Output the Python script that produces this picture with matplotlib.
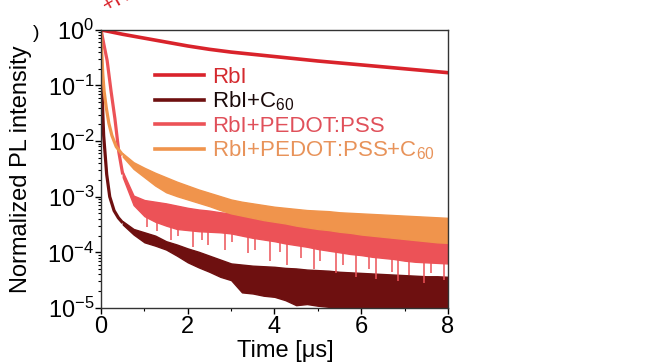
import matplotlib
matplotlib.use("Agg")
import matplotlib.pyplot as plt
from matplotlib.lines import Line2D
from matplotlib.ticker import LogLocator, NullFormatter
import numpy as np

plt.rcParams['font.family'] = ['Liberation Sans', 'DejaVu Sans']
plt.rcParams['mathtext.fontset'] = 'custom'
plt.rcParams['mathtext.rm'] = 'Liberation Sans'
plt.rcParams['mathtext.it'] = 'Liberation Sans:italic'

# colours
c_rbi = '#d9232b'
c_c60 = '#6e1010'
c_pedot = '#ec5257'
c_orange = '#f0944c'

labels = ['RbI', 'RbI+C$_{60}$', 'RbI+PEDOT:PSS', 'RbI+PEDOT:PSS+C$_{60}$']
label_colors = ['#d42a2f', '#1a0a0a', '#e0505a', '#e8935a']

# RbI (smooth, log10 of intensity)
t_rbi = [0, 0.5, 1, 1.5, 2, 2.5, 3, 4, 5, 6, 7, 8]
y_rbi = [0, -0.08, -0.15, -0.22, -0.29, -0.35, -0.40, -0.48, -0.56, -0.63, -0.70, -0.77]

# early decays (log10), drawn as lines up to t = 0.5 us
t_c60_early = [0, 0.01, 0.02, 0.04, 0.06, 0.09, 0.13, 0.2, 0.3, 0.4, 0.5]
y_c60_early = [0, -0.5, -1.0, -1.5, -1.9, -2.2, -2.6, -3.0, -3.25, -3.38, -3.47]
t_ped_early = [0, 0.03, 0.07, 0.14, 0.23, 0.32, 0.41, 0.5]
y_ped_early = [0, -0.12, -0.28, -0.55, -1.1, -1.6, -2.2, -2.6]
t_or_early = [0, 0.01, 0.02, 0.04, 0.07, 0.12, 0.18, 0.25, 0.35, 0.5]
y_or_early = [0, -0.3, -0.5, -0.8, -1.1, -1.4, -1.68, -1.9, -2.1, -2.25]

# noisy part: upper / lower envelopes (log10)
t_band = [0.5, 0.75, 1.0, 1.25, 1.5, 1.75, 2.0, 2.25, 2.5, 2.75, 3.0, 3.25, 3.5, 3.75, 4.0, 4.25,
          4.5, 4.75, 5.0, 5.25, 5.5, 5.75, 6.0, 6.25, 6.5, 6.75, 7.0, 7.25, 7.5, 7.75, 8.0]
c60_hi = [-3.44, -3.58, -3.64, -3.70, -3.80, -3.86, -3.93, -3.99, -4.06, -4.13, -4.20, -4.22, -4.24,
          -4.25, -4.26, -4.28, -4.29, -4.31, -4.32, -4.33, -4.35, -4.36, -4.37, -4.38, -4.39, -4.40,
          -4.41, -4.42, -4.43, -4.43, -4.44]
c60_lo = [-3.50, -3.68, -3.82, -3.88, -3.95, -4.06, -4.18, -4.27, -4.35, -4.44, -4.50, -4.72, -4.74,
          -4.78, -4.80, -4.86, -4.95, -4.93, -4.96, -4.98, -5.10, -5.20, -5.20, -5.20, -5.20, -5.20,
          -5.20, -5.20, -5.20, -5.20, -5.20]
ped_hi = [-2.55, -2.98, -3.06, -3.09, -3.12, -3.16, -3.20, -3.23, -3.25, -3.28, -3.30, -3.33, -3.36,
          -3.40, -3.44, -3.47, -3.50, -3.52, -3.55, -3.58, -3.61, -3.64, -3.66, -3.69, -3.72, -3.74,
          -3.76, -3.78, -3.80, -3.82, -3.84]
ped_lo = [-2.65, -3.15, -3.35, -3.45, -3.52, -3.58, -3.60, -3.62, -3.63, -3.64, -3.66, -3.70, -3.74,
          -3.77, -3.80, -3.84, -3.87, -3.90, -3.94, -3.97, -4.00, -4.03, -4.05, -4.08, -4.10, -4.12,
          -4.15, -4.17, -4.18, -4.19, -4.20]
or_hi = [-2.22, -2.38, -2.48, -2.57, -2.65, -2.73, -2.80, -2.87, -2.93, -2.99, -3.05, -3.09, -3.12,
         -3.15, -3.18, -3.20, -3.22, -3.24, -3.25, -3.26, -3.28, -3.29, -3.30, -3.31, -3.32, -3.33,
         -3.34, -3.35, -3.36, -3.37, -3.38]
or_lo = [-2.28, -2.50, -2.65, -2.80, -2.92, -2.99, -3.05, -3.11, -3.17, -3.24, -3.30, -3.34, -3.38,
         -3.42, -3.45, -3.48, -3.52, -3.55, -3.58, -3.60, -3.63, -3.65, -3.68, -3.70, -3.72, -3.74,
         -3.76, -3.78, -3.80, -3.82, -3.83]

# downward noise spikes of RbI+PEDOT:PSS
ped_spike_t = [1.05, 1.3, 1.62, 1.78, 2.12, 2.33, 2.46, 2.85, 3.02, 3.38, 3.55, 3.9, 4.12, 4.3,
               4.62, 4.9, 5.06, 5.42, 5.57, 5.88, 6.17, 6.33, 6.7, 6.86, 7.1, 7.44, 7.6, 7.92]
ped_spike_lo = [-3.55, -3.62, -3.78, -3.7, -3.9, -3.78, -3.86, -3.95, -3.82, -4.02, -3.95, -4.15,
                -4.0, -4.22, -4.1, -4.3, -4.15, -4.38, -4.22, -4.45, -4.3, -4.48, -4.35, -4.52,
                -4.4, -4.55, -4.38, -4.5]

p = lambda v: 10 ** np.asarray(v, dtype=float)

fig = plt.figure(figsize=(6.52, 3.64), dpi=100)
ax = fig.add_axes([0.155, 0.154, 0.532, 0.764])

lw = 2.3
ax.plot(t_c60_early, p(y_c60_early), color=c_c60, lw=lw, solid_capstyle='butt')
ax.fill_between(t_band, p(c60_lo), p(c60_hi), color=c_c60, lw=1.0, edgecolor=c_c60)

ax.plot(t_ped_early, p(y_ped_early), color=c_pedot, lw=lw, solid_capstyle='butt')
ax.fill_between(t_band, p(ped_lo), p(ped_hi), color=c_pedot, lw=1.0, edgecolor=c_pedot)
ax.vlines(ped_spike_t, p(ped_spike_lo), p(np.interp(ped_spike_t, t_band, ped_lo) + 0.05),
          color=c_pedot, lw=1.1)

ax.plot(t_or_early, p(y_or_early), color=c_orange, lw=lw, solid_capstyle='butt')
ax.fill_between(t_band, p(or_lo), p(or_hi), color=c_orange, lw=1.0, edgecolor=c_orange)

ax.plot(t_rbi, p(y_rbi), color=c_rbi, lw=2.6)

ax.set_yscale('log')
ax.set_xlim(0, 8)
ax.set_ylim(1e-5, 1)
ax.yaxis.set_major_locator(LogLocator(base=10, numticks=10))
ax.yaxis.set_minor_locator(LogLocator(base=10, subs=np.arange(2, 10), numticks=10))
ax.yaxis.set_minor_formatter(NullFormatter())
ax.set_xticks([0, 2, 4, 6, 8])
ax.set_xticks([1, 3, 5, 7], minor=True)
ax.tick_params(axis='both', which='major', labelsize=17, direction='out', length=4, width=1,
               top=False, right=False)
ax.tick_params(axis='both', which='minor', direction='out', length=2.5, width=0.8,
               top=False, right=False)
ax.tick_params(axis='x', pad=2)
ax.tick_params(axis='y', pad=1)
for s in ax.spines.values():
    s.set_color('#333333')
    s.set_linewidth(1.0)

ax.set_xlabel('Time [\u03bcs]', fontsize=17)
ax.xaxis.set_label_coords(0.53, -0.115)
ax.set_ylabel('Normalized PL intensity', fontsize=17, labelpad=11)

handles = [Line2D([], [], color=c, lw=2.6) for c in [c_rbi, c_c60, c_pedot, c_orange]]
leg = ax.legend(handles, labels, loc='upper left', bbox_to_anchor=(0.13, 0.9), frameon=False,
                fontsize=16, handlelength=2.2, handletextpad=0.35, labelspacing=0.1,
                borderaxespad=0)
for txt, col in zip(leg.get_texts(), label_colors):
    txt.set_color(col)

fig.text(0.05, 0.895, ')', fontsize=14, color='black')
fig.text(0.152, 0.958, '+HI', fontsize=15, color=c_rbi, rotation=30, va='bottom')

fig.savefig('out.png', dpi=100)
